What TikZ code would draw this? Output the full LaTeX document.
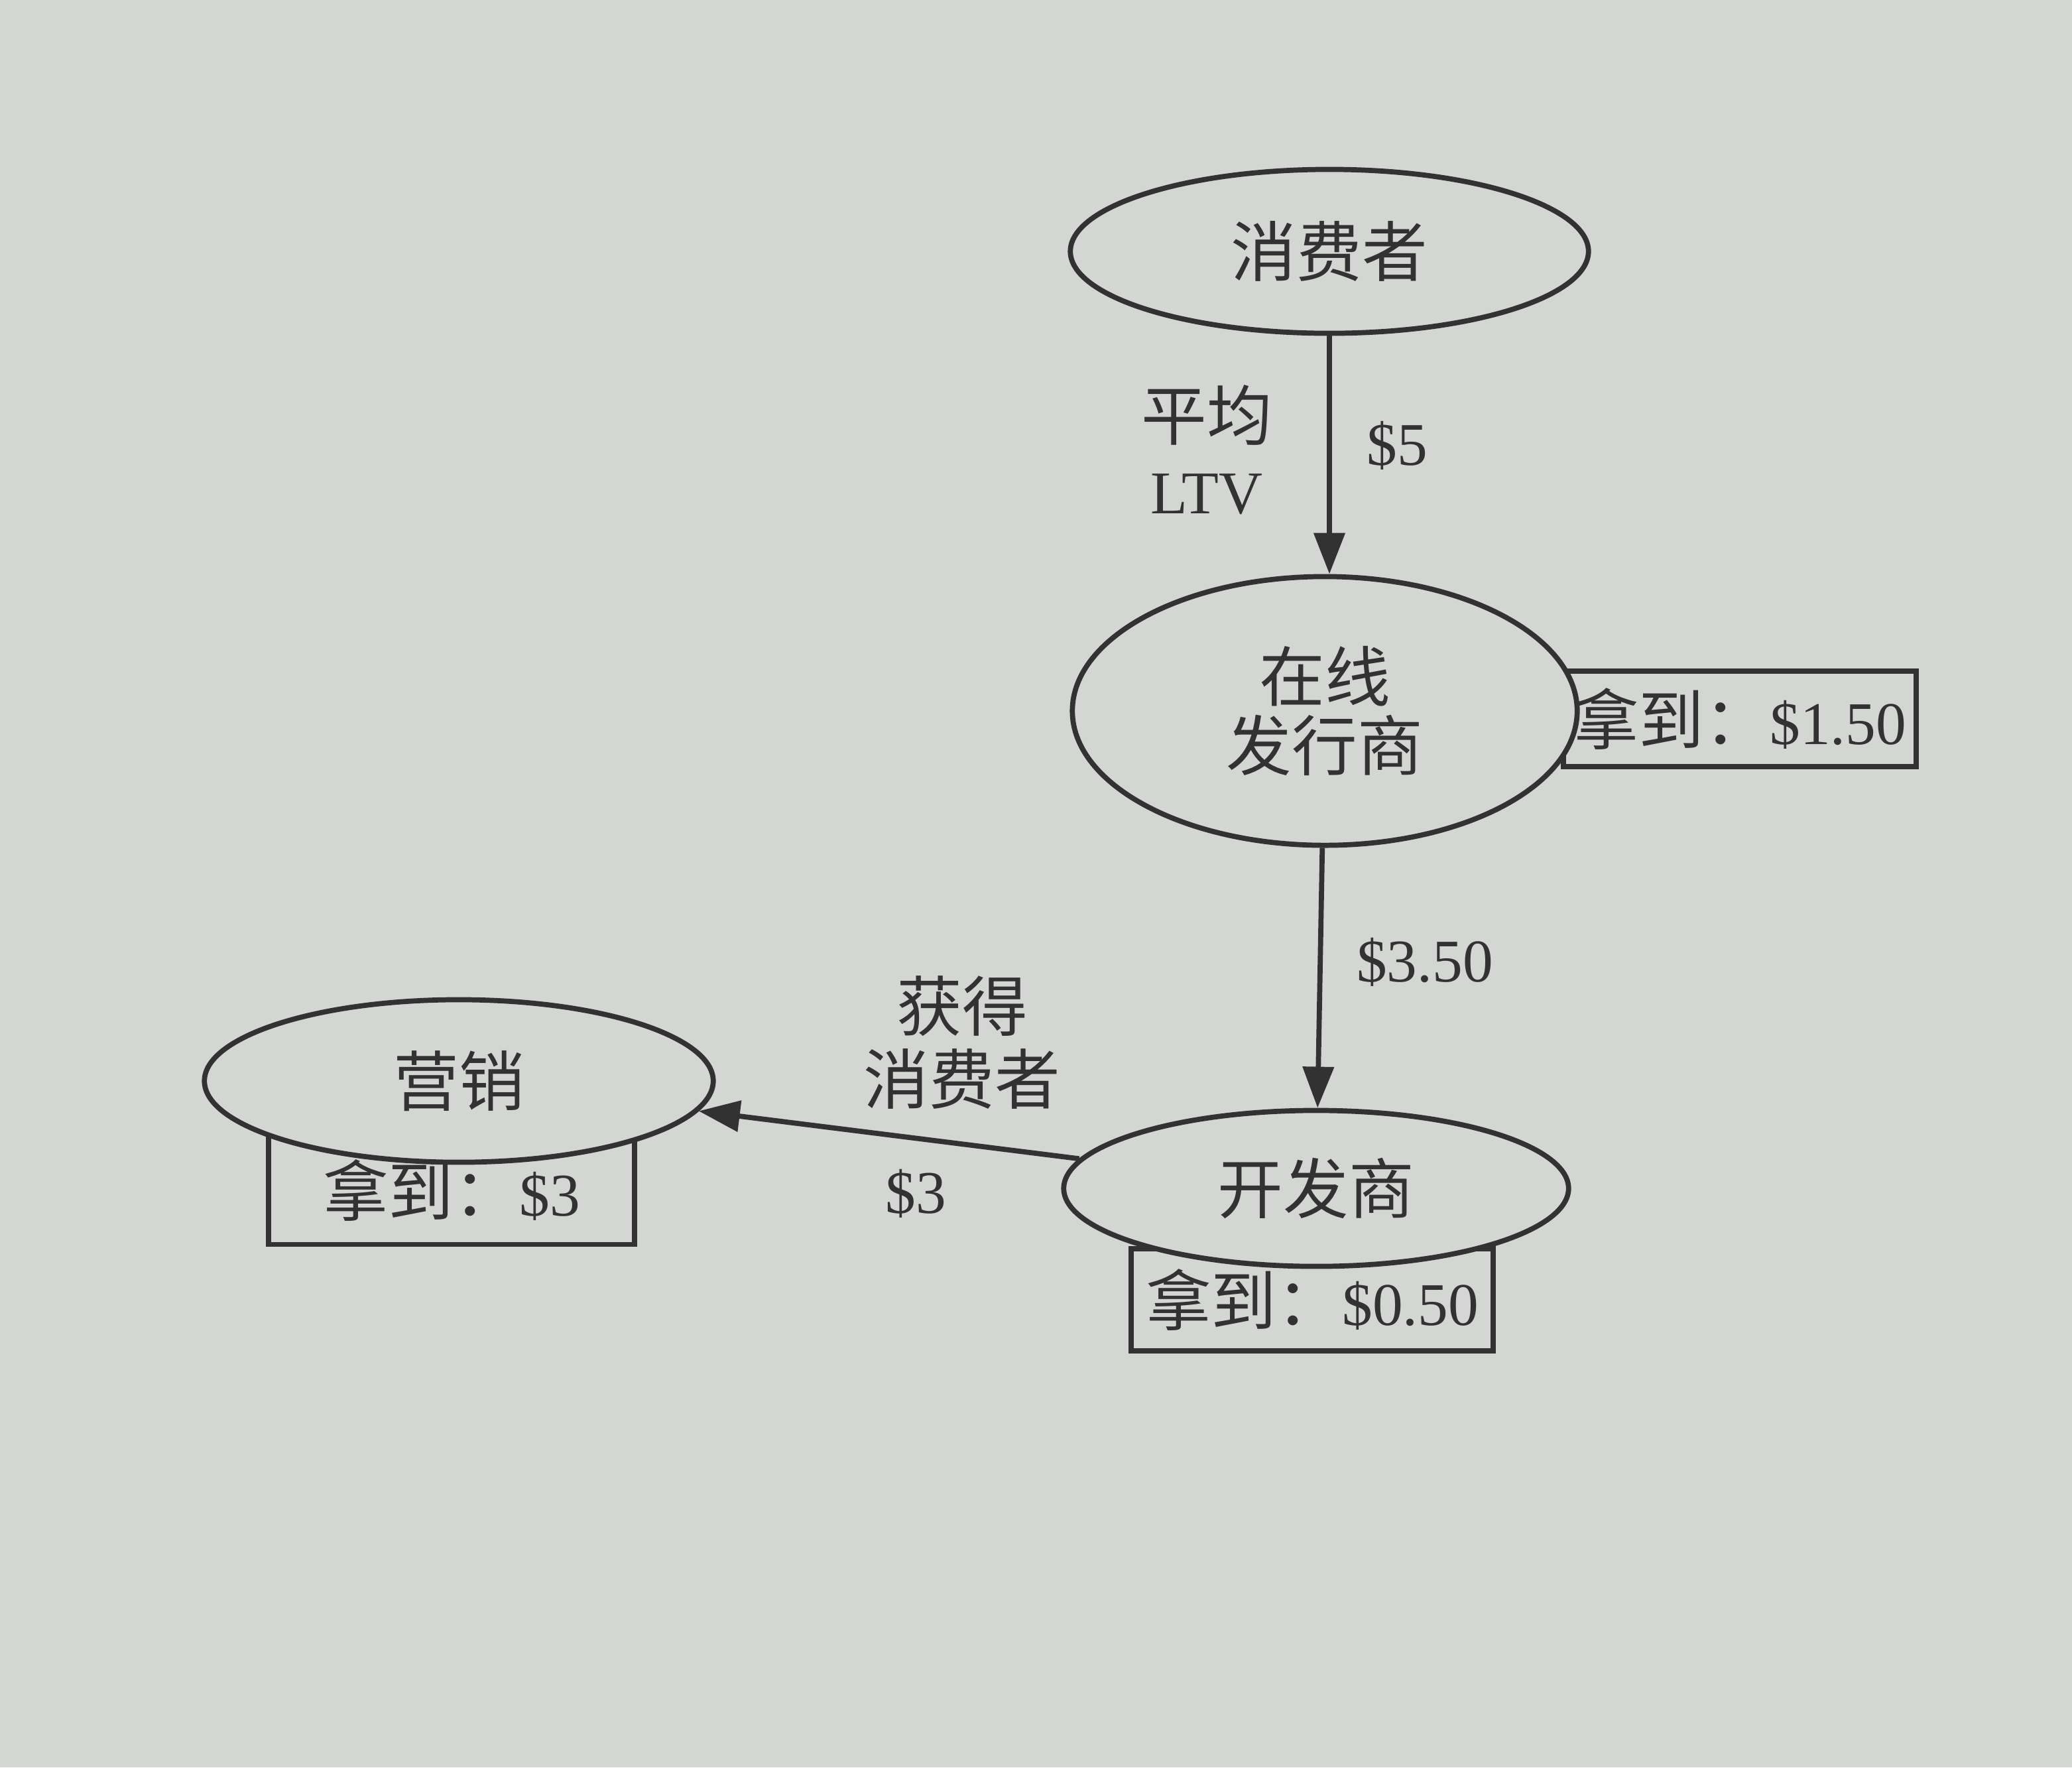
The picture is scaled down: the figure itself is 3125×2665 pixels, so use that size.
\documentclass[tikz,border=0pt]{standalone}
\usepackage{fontspec}
\setmainfont{Liberation Serif}
\newfontfamily\cjk[Scale=1.08]{Noto Sans CJK SC}
\usetikzlibrary{shapes.geometric,arrows.meta}
\definecolor{paper}{RGB}{212,214,211}
\definecolor{ink}{RGB}{50,50,50}

\begin{document}
\begin{tikzpicture}[x=0.01cm,y=-0.01cm,
    every node/.style={font=\fontsize{26}{31.5}\selectfont,text=ink},
    ell/.style={ellipse,draw=ink,line width=2.2pt,fill=paper,inner sep=0pt},
    gotbox/.style={rectangle,draw=ink,line width=2.2pt,inner sep=0pt},
    flow/.style={draw=ink,line width=2.2pt,-{Triangle[width=0.46cm,length=0.62cm]}}]
    \fill[paper](0,0) rectangle (3125,2665);
    \node[gotbox,minimum width=5.32cm,minimum height=1.44cm] (pubgot) at (2624,1084) {{\cjk 拿到：}\$1.50};
    \node[gotbox,minimum width=5.46cm,minimum height=1.54cm] (devgot) at (1979,1960) {{\cjk 拿到：}\$0.50};
    \node[gotbox,minimum width=5.52cm,minimum height=1.63cm] (mktgot) at (681,1795) {{\cjk 拿到：}\$3};
    \node[ell,minimum width=7.81cm,minimum height=2.47cm] (cons) at (2005,379) {\cjk 消费者};
    \node[ell,minimum width=7.61cm,minimum height=4.05cm,align=center,font=\fontsize{26}{29.5}\selectfont\cjk] (pub) at (1998,1072) {在线\\发行商};
    \node[ell,minimum width=7.61cm,minimum height=2.35cm] (dev) at (1985,1792) {\cjk 开发商};
    \node[ell,minimum width=7.67cm,minimum height=2.45cm] (mkt) at (692,1630) {\cjk 营销};
    \node[align=center] (ltv) at (1820,678) {{\cjk 平均}\\LTV};
    \node (five) at (2107,672) {\$5};
    \node (threefifty) at (2149,1451) {\$3.50};
    \node[align=center,font=\fontsize{26}{31.5}\selectfont\cjk] (acq) at (1451,1572) {获得\\消费者};
    \node (three) at (1381,1800) {\$3};
    \draw[flow](cons.south)--(cons.south|-pub.north);
    \draw[flow](pub)--(dev);
    \draw[flow](dev)--(mkt);
\end{tikzpicture}
\end{document}
